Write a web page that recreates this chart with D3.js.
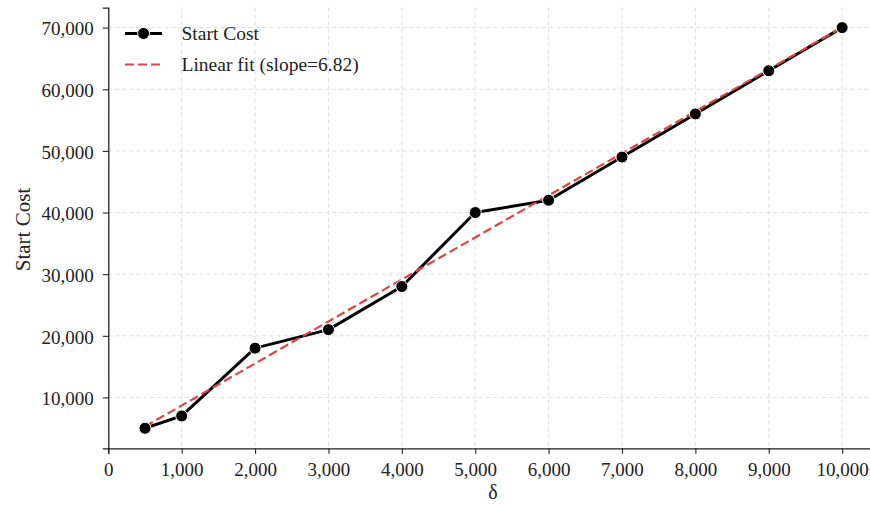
<!DOCTYPE html>
<html>
<head>
<meta charset="utf-8">
<script src="https://cdn.jsdelivr.net/npm/d3@7"></script>
<style>
  body { margin: 0; background: #fff; }
  svg { display: block; }
  text { font-family: "Liberation Serif", "Times New Roman", serif; fill: #222; }
</style>
</head>
<body>
<svg id="chart" width="870" height="506"></svg>
<script>
// Start cost measured at each delta value
const deltas = [500, 1000, 2000, 3000, 4000, 5000, 6000, 7000, 8000, 9000, 10000];
const startCost = [5000, 7000, 18000, 21000, 28000, 40000, 42000, 49000, 56000, 63000, 70000];
const xTicks = [0, 1000, 2000, 3000, 4000, 5000, 6000, 7000, 8000, 9000, 10000];
const yTicks = [10000, 20000, 30000, 40000, 50000, 60000, 70000];

const svg = d3.select("#chart");
const margin = { left: 108.3, top: 7.6, bottom: 448.3 };
const plotRight = 877;

const x = d3.scaleLinear().domain([0, 10475]).range([margin.left, plotRight]);
const y = d3.scaleLinear().domain([1750, 73250]).range([margin.bottom, margin.top]);

// Least-squares fit of cost against delta
const mx = d3.mean(deltas), my = d3.mean(startCost);
let sxy = 0, sxx = 0;
deltas.forEach((d, i) => { sxy += (d - mx) * (startCost[i] - my); sxx += (d - mx) * (d - mx); });
const slope = sxy / sxx;
const intercept = my - slope * mx;
const fitX = [d3.min(deltas), d3.max(deltas)];

const fmt = d3.format(",");
const tickFont = 19;

// Grid
const grid = svg.append("g");
grid.selectAll(".gx").data(xTicks).join("line")
  .attr("x1", d => x(d)).attr("x2", d => x(d))
  .attr("y1", margin.top).attr("y2", margin.bottom)
  .attr("stroke", "#d6d6d6").attr("stroke-width", 0.8).attr("stroke-dasharray", "4,3");
grid.selectAll(".gy").data(yTicks).join("line")
  .attr("x1", margin.left).attr("x2", plotRight)
  .attr("y1", d => y(d)).attr("y2", d => y(d))
  .attr("stroke", "#d6d6d6").attr("stroke-width", 0.8).attr("stroke-dasharray", "4,3");

// Axes
const xAxis = svg.append("g").attr("transform", `translate(0,${margin.bottom})`)
  .call(d3.axisBottom(x).tickValues(xTicks).tickFormat(fmt).tickSizeOuter(0).tickSize(5.5).tickPadding(9));
const yAxis = svg.append("g").attr("transform", `translate(${margin.left},0)`)
  .call(d3.axisLeft(y).tickValues(yTicks).tickFormat(fmt).tickSizeOuter(0).tickSize(5.5).tickPadding(9));
[xAxis, yAxis].forEach(a => {
  a.select(".domain").attr("stroke", "#222").attr("stroke-width", 1.3);
  a.selectAll(".tick line").attr("stroke", "#222").attr("stroke-width", 1.1);
  a.selectAll(".tick text").attr("font-size", tickFont).attr("font-family", "Liberation Serif").attr("fill", "#222");
});
yAxis.selectAll(".tick text").attr("dy", "0.38em");

// Axis titles
svg.append("text").attr("x", 493).attr("y", 499).attr("text-anchor", "middle")
  .attr("font-size", 20).text("δ");
svg.append("text").attr("transform", "translate(30,229.5) rotate(-90)").attr("text-anchor", "middle")
  .attr("font-size", 21).text("Start Cost");

// Data line
const line = d3.line().x(d => x(d[0])).y(d => y(d[1]));
const pts = deltas.map((d, i) => [d, startCost[i]]);
svg.append("path").datum(pts).attr("d", line)
  .attr("fill", "none").attr("stroke", "#000").attr("stroke-width", 3).attr("stroke-linejoin", "round");

// Fit line
svg.append("path").datum(fitX.map(v => [v, intercept + slope * v])).attr("d", line)
  .attr("fill", "none").attr("stroke", "#e04444").attr("stroke-width", 2.2).attr("stroke-dasharray", "9,4");

// Markers
svg.selectAll(".pt").data(pts).join("circle")
  .attr("cx", d => x(d[0])).attr("cy", d => y(d[1])).attr("r", 6)
  .attr("fill", "#000").attr("stroke", "#fff").attr("stroke-width", 1);

// Legend
const lg = svg.append("g");
lg.append("line").attr("x1", 125).attr("x2", 162).attr("y1", 33.5).attr("y2", 33.5)
  .attr("stroke", "#000").attr("stroke-width", 3);
lg.append("circle").attr("cx", 143.5).attr("cy", 33.5).attr("r", 6)
  .attr("fill", "#000").attr("stroke", "#fff").attr("stroke-width", 1);
lg.append("text").attr("x", 181.5).attr("y", 40).attr("font-size", 19.5).text("Start Cost");
lg.append("line").attr("x1", 125).attr("x2", 162).attr("y1", 64.5).attr("y2", 64.5)
  .attr("stroke", "#e04444").attr("stroke-width", 2.2).attr("stroke-dasharray", "9,4");
lg.append("text").attr("x", 181.5).attr("y", 71).attr("font-size", 19.5)
  .text(`Linear fit (slope=${slope.toFixed(2)})`);
</script>
</body>
</html>
